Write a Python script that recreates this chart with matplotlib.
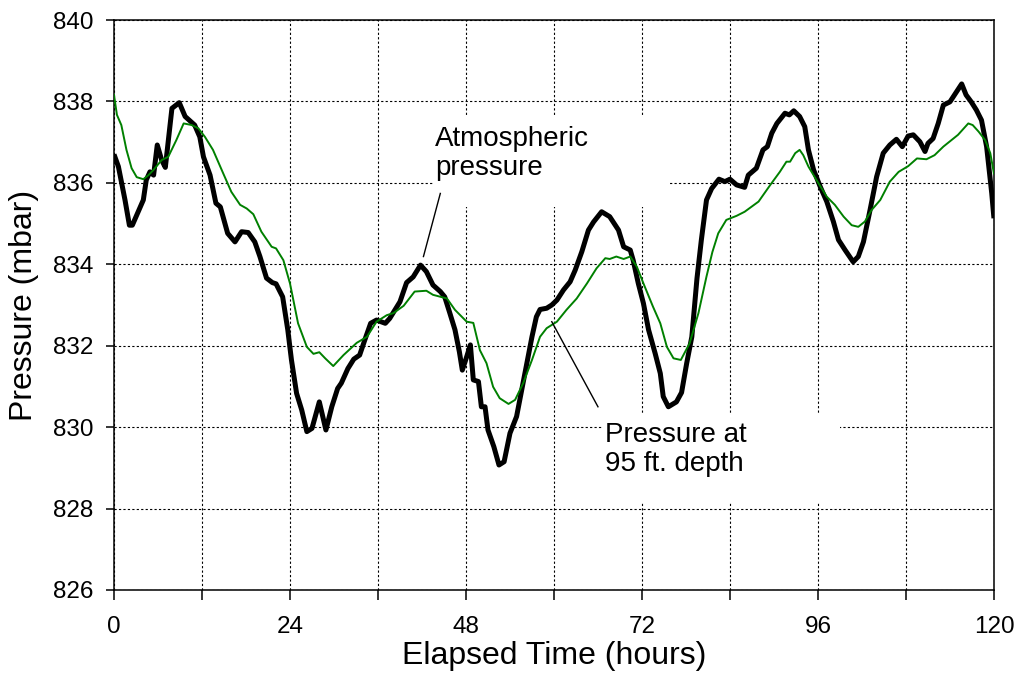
import matplotlib
matplotlib.use("Agg")
import matplotlib.pyplot as plt
from matplotlib.patches import Rectangle
from matplotlib.ticker import MultipleLocator

plt.rcParams["font.family"] = ["Liberation Sans", "DejaVu Sans"]

# atmospheric pressure (thick black)
hours_atm = [
    0, 0.6, 1.5, 2.1, 2.5, 4.0, 4.4, 4.9, 5.4, 5.9,
    6.5, 7.0, 7.9, 8.9, 9.7, 11.0, 11.7, 12.2, 13.1, 13.9,
    14.5, 15.5, 16.5, 17.4, 18.3, 19.2, 19.9, 20.8, 21.6, 22.1,
    23.0, 23.7, 24.2, 24.9, 25.6, 26.3, 27.0, 28.0, 28.9, 29.7,
    30.5, 31.0, 31.9, 32.7, 33.5, 34.2, 35.0, 35.8, 37.0, 37.6,
    39.0, 39.9, 40.8, 41.8, 42.6, 43.5, 44.5, 45.1, 45.8, 46.5,
    47.1, 47.5, 48.1, 48.6, 49.0, 49.7, 50.1, 50.6, 51.0, 51.8,
    52.5, 53.2, 54.0, 54.9, 55.6, 56.3, 57.0, 57.6, 58.1, 59.0,
    59.7, 60.4, 61.3, 62.2, 62.9, 63.8, 64.7, 65.4, 66.5, 67.6,
    68.8, 69.5, 70.4, 70.8, 71.5, 72.2, 72.9, 73.8, 74.5, 74.9,
    75.6, 76.7, 77.4, 78.1, 78.8, 79.5, 80.1, 80.8, 81.5, 82.5,
    83.3, 84.0, 84.9, 86.0, 86.5, 87.6, 88.5, 89.1, 89.7, 90.4,
    91.5, 92.1, 92.7, 93.5, 94.2, 94.7, 95.4, 96.3, 97.2, 98.1,
    98.8, 99.7, 100.8, 101.5, 102.2, 103.1, 104.0, 104.9, 105.8, 106.7,
    107.5, 108.3, 109.0, 109.9, 110.6, 111.0, 111.7, 112.4, 113.1, 114.0,
    114.9, 115.6, 116.2, 116.9, 117.6, 118.3, 119.0, 119.7, 120.0,
]
p_atm = [
    836.70, 836.40, 835.58, 834.96, 834.96, 835.58, 836.07, 836.27, 836.19, 836.93,
    836.56, 836.38, 837.83, 837.97, 837.63, 837.42, 837.13, 836.64, 836.19, 835.50,
    835.41, 834.76, 834.55, 834.80, 834.78, 834.55, 834.19, 833.66, 833.55, 833.52,
    833.20, 832.39, 831.65, 830.83, 830.42, 829.89, 829.97, 830.62, 829.93, 830.50,
    830.95, 831.08, 831.44, 831.67, 831.77, 832.14, 832.55, 832.63, 832.55, 832.67,
    833.08, 833.55, 833.69, 833.98, 833.82, 833.49, 833.33, 833.20, 832.80, 832.39,
    831.85, 831.40, 831.73, 832.02, 831.16, 831.12, 830.50, 830.50, 829.93, 829.52,
    829.07, 829.15, 829.85, 830.26, 830.91, 831.57, 832.22, 832.71, 832.89, 832.92,
    833.00, 833.12, 833.37, 833.57, 833.86, 834.31, 834.84, 835.04, 835.29, 835.17,
    834.84, 834.43, 834.35, 834.10, 833.53, 833.04, 832.39, 831.81, 831.32, 830.75,
    830.50, 830.62, 830.85, 831.57, 832.22, 833.65, 834.60, 835.58, 835.86, 836.09,
    836.03, 836.09, 835.95, 835.89, 836.19, 836.36, 836.81, 836.89, 837.22, 837.46,
    837.71, 837.67, 837.77, 837.63, 837.38, 836.81, 836.32, 835.91, 835.54, 835.05,
    834.60, 834.35, 834.06, 834.19, 834.55, 835.33, 836.15, 836.73, 836.93, 837.07,
    836.89, 837.15, 837.18, 837.01, 836.77, 836.97, 837.09, 837.46, 837.91, 837.99,
    838.24, 838.43, 838.16, 837.99, 837.79, 837.54, 836.89, 835.74, 835.13,
]

# pressure at 95 ft depth (thin green)
hours_well = [
    0, 0.4, 1.0, 1.7, 2.4, 3.1, 4.0, 4.7, 5.4, 6.5,
    7.4, 8.5, 9.5, 10.6, 11.5, 12.4, 13.5, 14.9, 16.0, 17.2,
    18.1, 19.0, 20.1, 21.5, 22.1, 23.1, 24.0, 25.1, 26.3, 27.2,
    28.0, 28.8, 29.9, 31.3, 33.1, 34.5, 35.8, 37.2, 38.1, 39.5,
    41.0, 42.6, 43.5, 45.4, 46.5, 48.1, 49.0, 49.9, 50.8, 51.7,
    52.6, 53.8, 54.7, 55.8, 57.0, 58.1, 59.0, 60.4, 61.7, 63.1,
    64.5, 65.8, 67.0, 67.6, 68.5, 69.5, 70.4, 71.3, 72.2, 73.5,
    74.5, 75.4, 76.3, 77.3, 78.5, 79.7, 80.8, 81.6, 82.4, 83.5,
    84.9, 86.0, 87.9, 89.5, 90.8, 91.7, 92.2, 92.9, 93.5, 94.0,
    94.7, 95.8, 97.2, 98.3, 99.5, 100.6, 101.5, 102.4, 103.3, 104.5,
    105.8, 107.0, 108.3, 109.5, 110.8, 111.9, 113.1, 115.1, 116.5, 117.1,
    117.9, 118.8, 119.5, 120.0,
]
p_well = [
    838.16, 837.67, 837.42, 836.81, 836.36, 836.14, 836.09, 836.19, 836.32, 836.56,
    836.64, 837.05, 837.46, 837.42, 837.34, 837.13, 836.81, 836.23, 835.78, 835.46,
    835.37, 835.23, 834.80, 834.43, 834.39, 834.10, 833.53, 832.55, 831.97, 831.80,
    831.84, 831.69, 831.50, 831.77, 832.07, 832.22, 832.59, 832.75, 832.80, 832.98,
    833.33, 833.35, 833.25, 833.16, 832.88, 832.59, 832.56, 831.89, 831.57, 830.99,
    830.71, 830.57, 830.67, 831.08, 831.65, 832.22, 832.43, 832.59, 832.88, 833.16,
    833.53, 833.90, 834.15, 834.13, 834.19, 834.13, 834.19, 833.94, 833.53, 832.96,
    832.55, 831.97, 831.69, 831.65, 832.06, 832.80, 833.70, 834.30, 834.76, 835.09,
    835.19, 835.29, 835.54, 835.95, 836.27, 836.52, 836.52, 836.73, 836.81, 836.68,
    836.40, 836.07, 835.66, 835.46, 835.17, 834.96, 834.92, 835.05, 835.33, 835.58,
    836.03, 836.27, 836.41, 836.60, 836.58, 836.68, 836.89, 837.18, 837.46, 837.42,
    837.26, 837.05, 836.73, 836.23,
]

fig, ax = plt.subplots(figsize=(10.16, 6.83), dpi=100)
fig.subplots_adjust(left=0.1122, right=0.9783, bottom=0.1362, top=0.9707)

ax.plot(hours_atm, p_atm, color="black", lw=3.6, zorder=3,
        solid_joinstyle="round", solid_capstyle="butt")
ax.plot(hours_well, p_well, color="#008000", lw=1.4, zorder=4)

ax.set_xlim(0, 120)
ax.set_ylim(826, 840)
ax.xaxis.set_major_locator(MultipleLocator(24))
ax.xaxis.set_minor_locator(MultipleLocator(12))
ax.yaxis.set_major_locator(MultipleLocator(2))

dots = (0, (2, 2))
ax.grid(True, which="both", axis="x", color="black", ls=dots, lw=0.8)
ax.grid(True, which="major", axis="y", color="black", ls=dots, lw=0.8)

ax.tick_params(axis="x", which="both", direction="out", length=7, width=1.1,
               pad=12, labelsize=17.5)
ax.tick_params(axis="y", which="major", direction="out", length=6, width=1.1,
               pad=9, labelsize=17.5)
for sp in ax.spines.values():
    sp.set_linewidth(1.1)

ax.set_xlabel("Elapsed Time (hours)", fontsize=23, labelpad=2)
ax.set_ylabel("Pressure (mbar)", fontsize=23, labelpad=10)

# white label boxes that blank out the grid
ax.add_patch(Rectangle((43.5, 835.41), 32.2, 2.21, facecolor="white",
                       edgecolor="none", zorder=2))
ax.add_patch(Rectangle((66.5, 828.16), 32.5, 2.19, facecolor="white",
                       edgecolor="none", zorder=2))

ax.text(43.8, 836.73, "Atmospheric\npressure", fontsize=20, ha="left",
        va="center", linespacing=1.15, zorder=6)
ax.plot([44.5, 42.2], [835.74, 834.19], color="black", lw=1.0, zorder=6)

ax.text(67.0, 829.46, "Pressure at\n95 ft. depth", fontsize=20, ha="left",
        va="center", linespacing=1.15, zorder=6)
ax.plot([59.7, 66.0], [832.59, 830.50], color="black", lw=1.0, zorder=6)

plt.savefig("out.png", dpi=100)
plt.close("all")
